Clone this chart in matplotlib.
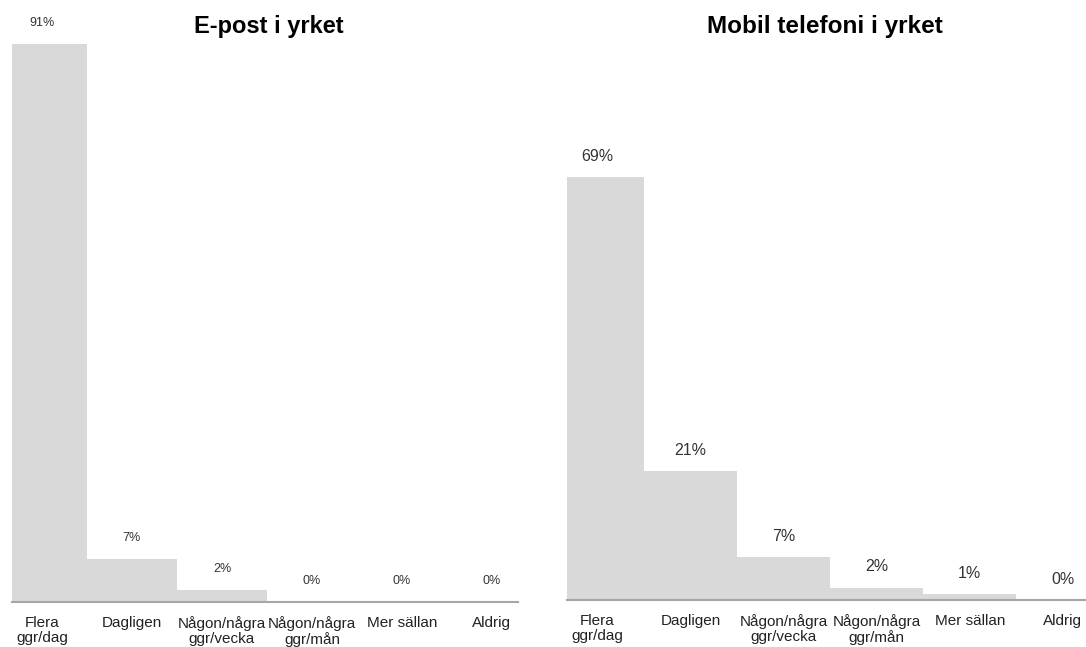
import numpy as np
import matplotlib
matplotlib.use('Agg')
import matplotlib.pyplot as plt

# categories and values (%)
kategorier = ['Flera\nggr/dag', 'Dagligen', 'Någon/några\nggr/vecka',
              'Någon/några\nggr/mån', 'Mer sällan', 'Aldrig']
epost = [91, 7, 2, 0, 0, 0]
mobil = [69, 21, 7, 2, 1, 0]
titlar = ['E-post i yrket', 'Mobil telefoni i yrket']

plt.rcParams['font.family'] = ['Liberation Sans', 'DejaVu Sans']

fig = plt.figure(figsize=(10.86, 6.47), dpi=100)

# axes rectangles in figure fractions
ax1 = fig.add_axes([12/1086, 1-602/647, 506/1086, 558/647])
ax2 = fig.add_axes([567/1086, 1-600/647, 519/1086, 558/647])

def rita(ax, varden, xlim, storlek):
    x = np.arange(len(varden))
    ax.bar(x, varden, width=1.0, color='#d9d9d9', edgecolor='none')
    ax.set_xlim(*xlim)
    ax.set_ylim(0, 91)
    for s in ['top', 'right', 'left']:
        ax.spines[s].set_visible(False)
    ax.spines['bottom'].set_color('#a6a6a6')
    ax.spines['bottom'].set_linewidth(1.5)
    ax.set_yticks([])
    ax.set_xticks(x)
    ax.set_xticklabels(kategorier, fontsize=11, color='#222222', linespacing=1.1)
    ax.tick_params(axis='x', length=0, pad=10)
    for xi, v in zip(x, varden):
        ax.annotate(f'{v}%', (xi, v), xytext=(0, 15), textcoords='offset points',
                    ha='center', va='center', fontsize=storlek, color='#333333',
                    annotation_clip=False)

rita(ax1, epost, (-0.333, 5.29), 9)
rita(ax2, mobil, (-0.328, 5.25), 11.5)

fig.text(269/1086, 1-26/647, titlar[0], ha='center', va='center',
         fontsize=17, fontweight='bold')
fig.text(825/1086, 1-27/647, titlar[1], ha='center', va='center',
         fontsize=17.5, fontweight='bold')

fig.savefig('out.png', dpi=100)
